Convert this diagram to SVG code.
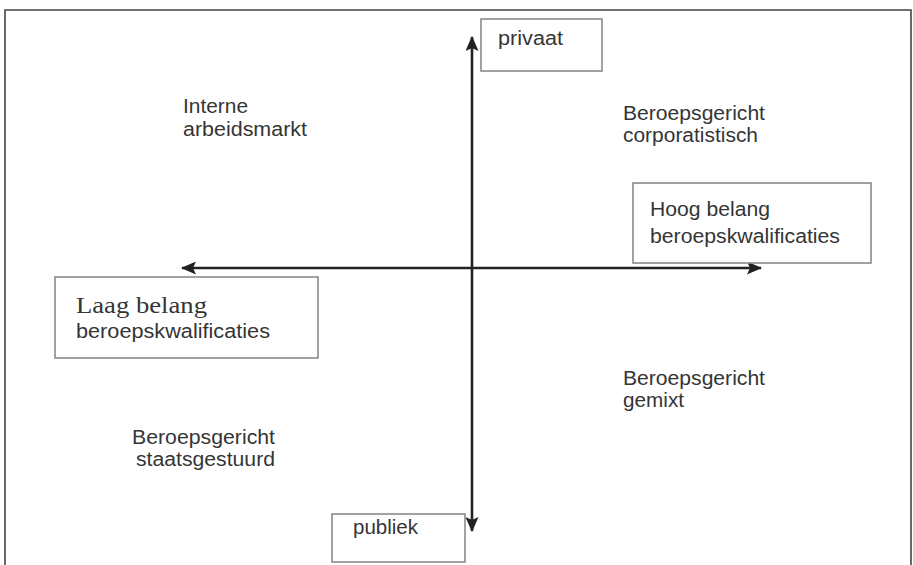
<svg xmlns="http://www.w3.org/2000/svg" width="913" height="565" viewBox="0 0 913 565">
<defs>
<style>
.t{font-family:"Liberation Sans",Arial,sans-serif;font-size:20px;fill:#353535}
.s{font-family:"Liberation Serif","Times New Roman",serif;font-size:24px;fill:#353535}
.box{fill:#fff;stroke:#8a8a8a;stroke-width:1.6}
.axis{stroke:#222;stroke-width:2.6;fill:none}
</style>
<marker id="ah" viewBox="0 0 15 13" refX="14" refY="6.5" markerWidth="15" markerHeight="13" markerUnits="userSpaceOnUse" orient="auto-start-reverse">
<path d="M0,0 L15,6.5 L0,13 L3,6.5 z" fill="#222"/>
</marker>
</defs>
<rect width="913" height="565" fill="#fff"/>
<path d="M5,570 V10 H911 V570" fill="none" stroke="#444" stroke-width="1.6"/>
<g id="connectors">
<line class="axis" x1="472" y1="531" x2="472" y2="37" marker-end="url(#ah)" marker-start="url(#ah)"/>
<line class="axis" x1="182" y1="268" x2="761" y2="268" marker-end="url(#ah)" marker-start="url(#ah)"/>
</g>
<g id="privaat">
<rect class="box" x="481" y="19" width="121" height="52"/>
<text class="t" x="498" y="45" textLength="65" lengthAdjust="spacingAndGlyphs">privaat</text>
</g>
<g id="publiek">
<rect class="box" x="332" y="514" width="133" height="48"/>
<text class="t" x="353" y="534" textLength="65" lengthAdjust="spacingAndGlyphs">publiek</text>
</g>
<g id="laag">
<rect class="box" x="55" y="277" width="263" height="81"/>
<text class="s" x="76" y="313" textLength="131" lengthAdjust="spacingAndGlyphs">Laag belang</text>
<text class="t" x="76" y="338" textLength="194" lengthAdjust="spacingAndGlyphs">beroepskwalificaties</text>
</g>
<g id="hoog">
<rect class="box" x="633" y="183" width="238" height="80"/>
<text class="t" x="650" y="216" textLength="120" lengthAdjust="spacingAndGlyphs">Hoog belang</text>
<text class="t" x="650" y="243" textLength="190" lengthAdjust="spacingAndGlyphs">beroepskwalificaties</text>
</g>
<g id="interne">
<text class="t" x="183" y="113" textLength="65" lengthAdjust="spacingAndGlyphs">Interne</text>
<text class="t" x="183" y="136" textLength="124" lengthAdjust="spacingAndGlyphs">arbeidsmarkt</text>
</g>
<g id="corporatistisch">
<text class="t" x="623" y="120" textLength="142" lengthAdjust="spacingAndGlyphs">Beroepsgericht</text>
<text class="t" x="623" y="142" textLength="135" lengthAdjust="spacingAndGlyphs">corporatistisch</text>
</g>
<g id="gemixt">
<text class="t" x="623" y="385" textLength="142" lengthAdjust="spacingAndGlyphs">Beroepsgericht</text>
<text class="t" x="623" y="407" textLength="61" lengthAdjust="spacingAndGlyphs">gemixt</text>
</g>
<g id="staatsgestuurd">
<text class="t" x="132" y="444" textLength="143" lengthAdjust="spacingAndGlyphs">Beroepsgericht</text>
<text class="t" x="136" y="466" textLength="139" lengthAdjust="spacingAndGlyphs">staatsgestuurd</text>
</g>
</svg>
